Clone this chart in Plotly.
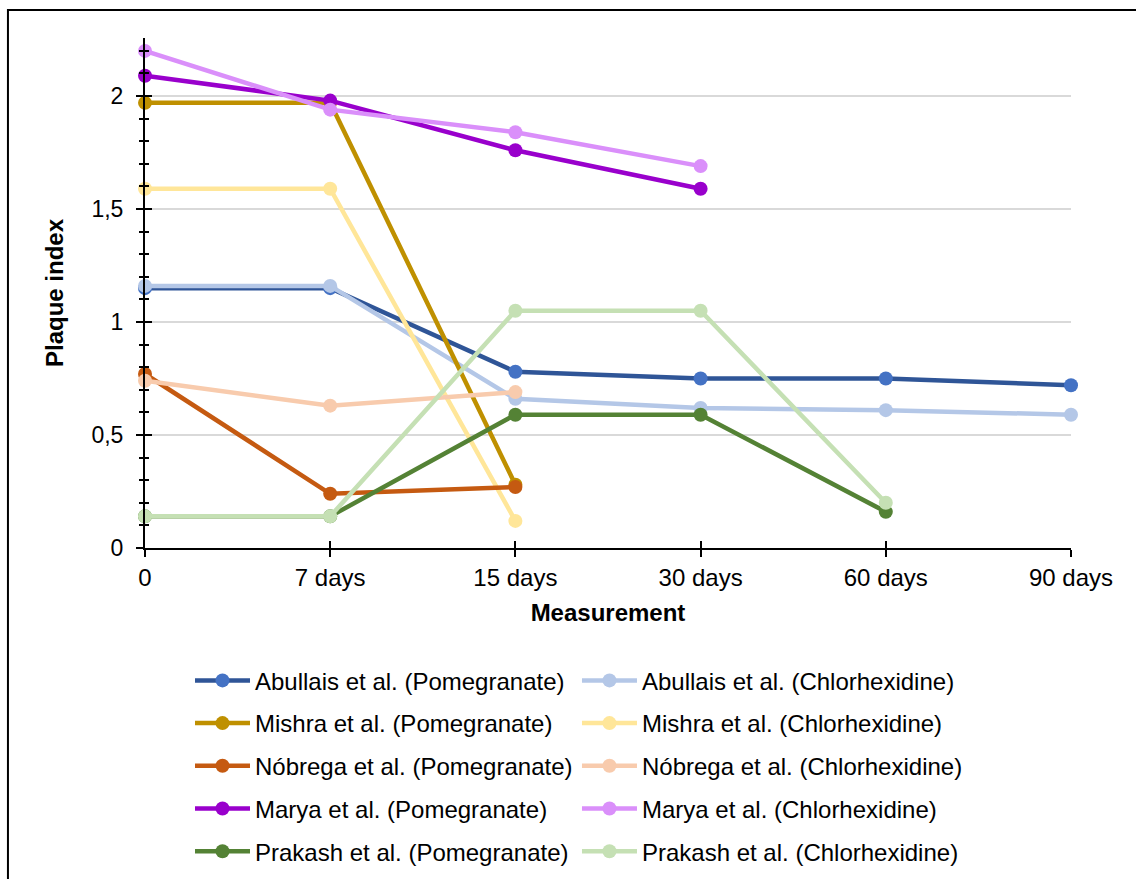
import plotly.graph_objects as go

categories = ["0", "7 days", "15 days", "30 days", "60 days", "90 days"]

abullais_pom = [1.15, 1.15, 0.78, 0.75, 0.75, 0.72]
abullais_chl = [1.16, 1.16, 0.66, 0.62, 0.61, 0.59]
mishra_pom = [1.97, 1.97, 0.28, None, None, None]
mishra_chl = [1.59, 1.59, 0.12, None, None, None]
nobrega_pom = [0.77, 0.24, 0.27, None, None, None]
nobrega_chl = [0.74, 0.63, 0.69, None, None, None]
marya_pom = [2.09, 1.98, 1.76, 1.59, None, None]
marya_chl = [2.20, 1.94, 1.84, 1.69, None, None]
prakash_pom = [0.14, 0.14, 0.59, 0.59, 0.16, None]
prakash_chl = [0.14, 0.14, 1.05, 1.05, 0.20, None]

series = [
    ("Abullais et al. (Pomegranate)", abullais_pom, "#2F5597", "#4472C4", "legend"),
    ("Abullais et al. (Chlorhexidine)", abullais_chl, "#B4C7E7", "#B4C7E7", "legend2"),
    ("Mishra et al. (Pomegranate)", mishra_pom, "#BF9000", "#BF9000", "legend"),
    ("Mishra et al. (Chlorhexidine)", mishra_chl, "#FFE699", "#FFE699", "legend2"),
    ("Nóbrega et al. (Pomegranate)", nobrega_pom, "#C55A11", "#C55A11", "legend"),
    ("Nóbrega et al. (Chlorhexidine)", nobrega_chl, "#F8CBAD", "#F8CBAD", "legend2"),
    ("Marya et al. (Pomegranate)", marya_pom, "#9900CC", "#9900CC", "legend"),
    ("Marya et al. (Chlorhexidine)", marya_chl, "#DA8FFA", "#DA8FFA", "legend2"),
    ("Prakash et al. (Pomegranate)", prakash_pom, "#548235", "#548235", "legend"),
    ("Prakash et al. (Chlorhexidine)", prakash_chl, "#C5E0B4", "#C5E0B4", "legend2"),
]

FONT = "Liberation Sans, Arial, sans-serif"

fig = go.Figure()
for name, vals, lc, mc, lg in series:
    fig.add_trace(go.Scatter(
        x=categories, y=vals, name=name, mode="lines+markers",
        line=dict(color=lc, width=4.5),
        marker=dict(color=mc, size=14),
        cliponaxis=False, legend=lg, legendgroup=name,
    ))

# invisible trace on secondary axes so they render (for inside ticks)
fig.add_trace(go.Scatter(x=categories, y=[None] * len(categories), xaxis="x2", yaxis="y2",
                         showlegend=False, hoverinfo="skip"))

ymax = 2.257
legend_common = dict(
    xanchor="left", yanchor="top",
    orientation="v", tracegroupgap=8.5, itemwidth=55,
    font=dict(size=24), bgcolor="rgba(0,0,0,0)",
)
fig.update_layout(
    width=1136, height=879,
    margin=dict(l=145, r=65, t=38, b=331, autoexpand=False),
    paper_bgcolor="white", plot_bgcolor="white",
    separators=", ",
    font=dict(family=FONT, size=23, color="black"),
    showlegend=True,
    xaxis=dict(
        type="category", range=[0, 5], showgrid=False,
        showline=True, linecolor="black", linewidth=2,
        ticks="outside", ticklen=7, tickwidth=2, tickcolor="black",
        tickfont=dict(size=24), zeroline=False,
        title=dict(text="<b>Measurement</b>", font=dict(size=24), standoff=14),
    ),
    yaxis=dict(
        range=[0, ymax], dtick=0.5, tick0=0,
        showgrid=True, gridcolor="#D9D9D9", gridwidth=1.5,
        showline=True, linecolor="black", linewidth=2, zeroline=False,
        ticks="outside", ticklen=7, tickwidth=2, tickcolor="black",
        minor=dict(dtick=0.1, ticks="outside", ticklen=4, tickwidth=2, tickcolor="black", showgrid=False),
        tickfont=dict(size=23), ticklabelstandoff=8,
        title=dict(text="<b>Plaque index</b>", font=dict(size=24), standoff=21),
    ),
    xaxis2=dict(
        type="category", range=[0, 5], overlaying="x", side="bottom",
        showgrid=False, showline=False, showticklabels=False,
        ticks="inside", ticklen=7, tickwidth=2, tickcolor="black", zeroline=False,
    ),
    yaxis2=dict(
        range=[0, ymax], dtick=0.5, tick0=0, overlaying="y", side="left",
        showgrid=False, showline=False, showticklabels=False, zeroline=False,
        ticks="inside", ticklen=7, tickwidth=2, tickcolor="black",
        minor=dict(dtick=0.1, ticks="inside", ticklen=4, tickwidth=2, tickcolor="black", showgrid=False),
    ),
    legend=dict(x=0.0486, y=-0.2163, **legend_common),
    legend2=dict(x=0.4665, y=-0.2163, **legend_common),
    shapes=[dict(type="rect", xref="paper", yref="paper",
                 x0=-0.148, x1=1.2, y0=-0.75, y1=1.0549,
                 line=dict(color="black", width=2), fillcolor="rgba(0,0,0,0)", layer="below")],
)

fig.write_html("out.html")
